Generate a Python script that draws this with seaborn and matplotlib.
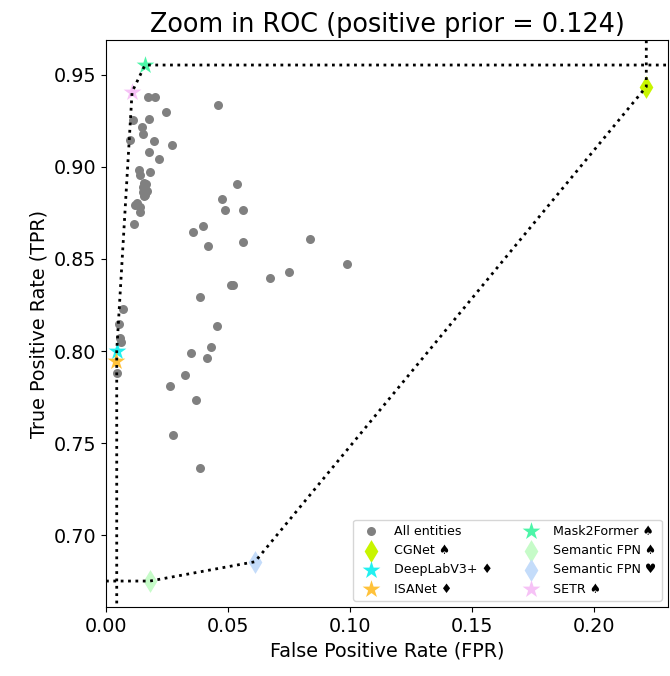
import matplotlib
matplotlib.use("Agg")
import matplotlib.pyplot as plt
import seaborn as sns
import pandas as pd

# ---- data ----
all_fpr = [0.0172, 0.0201, 0.0461, 0.0246, 0.0109, 0.0178, 0.0146, 0.0153, 0.0098, 0.0197,
           0.0269, 0.0178, 0.0217, 0.0137, 0.0139, 0.0182, 0.0156, 0.0164, 0.0152, 0.0160,
           0.0168, 0.0152, 0.0160, 0.0156, 0.0129, 0.0117, 0.0139, 0.0141, 0.0115, 0.0537,
           0.0475, 0.0488, 0.0563, 0.0399, 0.0355, 0.0420, 0.0563, 0.0837, 0.0988, 0.0751,
           0.0671, 0.0512, 0.0522, 0.0385, 0.0068, 0.0055, 0.0057, 0.0062, 0.0044, 0.0454,
           0.0430, 0.0348, 0.0414, 0.0324, 0.0262, 0.0368, 0.0276, 0.0385]
all_tpr = [0.9380, 0.9380, 0.9337, 0.9299, 0.9253, 0.9261, 0.9217, 0.9177, 0.9147, 0.9139,
           0.9120, 0.9080, 0.9042, 0.8984, 0.8957, 0.8975, 0.8913, 0.8908, 0.8891, 0.8880,
           0.8870, 0.8864, 0.8848, 0.8842, 0.8803, 0.8794, 0.8785, 0.8757, 0.8690, 0.8908,
           0.8828, 0.8766, 0.8766, 0.8679, 0.8647, 0.8573, 0.8591, 0.8609, 0.8473, 0.8429,
           0.8395, 0.8359, 0.8359, 0.8291, 0.8228, 0.8147, 0.8069, 0.8049, 0.7879, 0.8136,
           0.8023, 0.7991, 0.7964, 0.7871, 0.7810, 0.7732, 0.7545, 0.7363]

models = ["CGNet ♠", "DeepLabV3+ ♦", "ISANet ♦", "Mask2Former ♠",
          "Semantic FPN ♠", "Semantic FPN ♥", "SETR ♠"]
model_fpr = [0.2216, 0.0044, 0.0041, 0.0160, 0.0180, 0.0611, 0.0107]
model_tpr = [0.9436, 0.8000, 0.7946, 0.9554, 0.6750, 0.6855, 0.9408]
model_markers = ["d", "*", "*", "*", "d", "d", "*"]
model_colors = ["#c8f500", "#22f0f0", "#ffc23a", "#4cf5a8", "#c6fbc8", "#c4dcfa", "#f6c2f6"]

curve_a_fpr = [0.0044, 0.0044, 0.0107, 0.0160, 1.0]
curve_a_tpr = [0.0, 0.8000, 0.9408, 0.9554, 0.9554]
curve_b_fpr = [0.0, 0.0180, 0.0611, 0.2216, 0.2216]
curve_b_tpr = [0.6750, 0.6750, 0.6855, 0.9436, 1.0]

title = "Zoom in ROC (positive prior = 0.124)"

# ---- plot ----
fig = plt.figure(figsize=(6.7, 6.76), dpi=100)
ax = fig.add_axes([106 / 670, 1 - 607 / 676, (668 - 106) / 670, (607 - 40) / 676])

sns.scatterplot(x=all_fpr, y=all_tpr, color="gray", s=42, linewidth=0,
                label="All entities", ax=ax, zorder=2)

for name, fx, ty, mk, col in zip(models, model_fpr, model_tpr, model_markers, model_colors):
    size = 135 if mk == "d" else 180
    sns.scatterplot(x=[fx], y=[ty], marker=mk, color=col, s=size, linewidth=0,
                    label=name, ax=ax, zorder=3)

for cx, cy in [(curve_a_fpr, curve_a_tpr), (curve_b_fpr, curve_b_tpr)]:
    df = pd.DataFrame({"fpr": cx, "tpr": cy})
    sns.lineplot(data=df, x="fpr", y="tpr", sort=False, estimator=None,
                 color="black", lw=2, ls=":", ax=ax, zorder=4, legend=False)

ax.set_xlim(0, 0.2305)
ax.set_ylim(0.6609, 0.969)
ax.set_xticks([0.0, 0.05, 0.10, 0.15, 0.20])
ax.set_yticks([0.70, 0.75, 0.80, 0.85, 0.90, 0.95])
ax.tick_params(labelsize=13.8)
ax.set_xlabel("False Positive Rate (FPR)", fontsize=13.8)
ax.set_ylabel("True Positive Rate (TPR)", fontsize=13.8)
ax.set_title(title, fontsize=18.4)

handles, labels = ax.get_legend_handles_labels()
ax.legend(handles, labels, loc="lower right", ncol=2, fontsize=9.1)

fig.savefig("out.png", dpi=100)
